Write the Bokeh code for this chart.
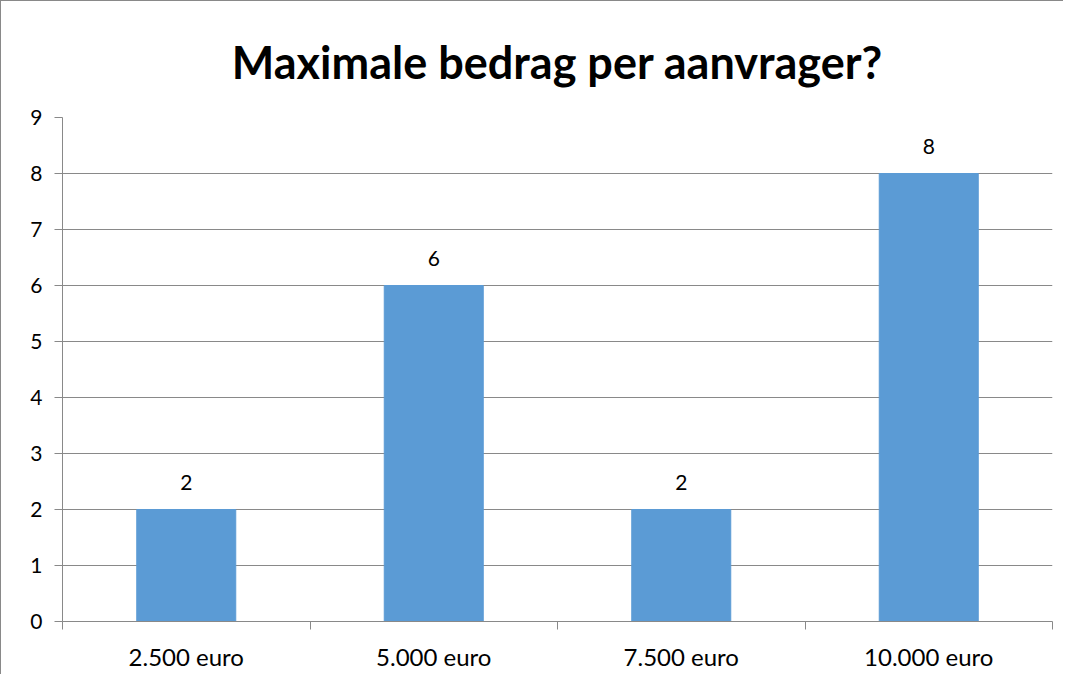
from bokeh.plotting import figure
from bokeh.models import FixedTicker, Range1d, ColumnDataSource, Title
from bokeh.core.properties import value
from bokeh.embed import file_html
from bokeh.resources import INLINE
import numpy as np

categories = ["2.500 euro", "5.000 euro", "7.500 euro", "10.000 euro"]
counts = [2, 6, 2, 8]
y_ticks = [0, 1, 2, 3, 4, 5, 6, 7, 8, 9]

FONT = "Lato"
GRID = "#898989"
BAR = "#5B9BD5"

n = len(categories)
centers = np.arange(n) + 0.5
src = ColumnDataSource(dict(x=centers, y=counts, lbl=[str(c) for c in counts]))

p = figure(width=1063, height=674, output_backend="svg", toolbar_location=None,
           x_range=Range1d(0, n), y_range=Range1d(0, 9),
           min_border_left=61, min_border_right=12, min_border_top=116, min_border_bottom=54,
           styles={"border-left": "1px solid #898989", "border-top": "1px solid #898989"})
p.outline_line_color = None
p.background_fill_color = "white"
p.border_fill_color = "white"

t = Title(text="Maximale bedrag per aanvrager?", align="center", text_font=FONT,
          text_font_size="45px", text_font_style="bold", text_color="black", standoff=57)
p.add_layout(t, "above")

p.vbar(x="x", top="y", width=0.4, bottom=0, source=src, fill_color=BAR, line_color=BAR)
p.text(x="x", y="y", text="lbl", source=src, text_align="center", text_baseline="bottom",
       y_offset=-20, text_font=value(FONT), text_font_size="21px", text_color="black")

# y axis
p.yaxis.ticker = FixedTicker(ticks=y_ticks)
p.yaxis.axis_line_color = GRID
p.yaxis.major_tick_line_color = GRID
p.yaxis.major_tick_out = 8
p.yaxis.major_tick_in = 0
p.yaxis.minor_tick_line_color = None
p.yaxis.major_label_text_font = FONT
p.yaxis.major_label_text_font_size = "21px"
p.yaxis.major_label_text_color = "black"
p.yaxis.major_label_standoff = 12

# x axis: labels at centers, ticks at boundaries (minor)
p.xaxis.ticker = FixedTicker(ticks=list(centers), minor_ticks=list(np.arange(n + 1)))
p.xaxis.major_label_overrides = {float(c): cat for c, cat in zip(centers, categories)}
p.xaxis.axis_line_color = GRID
p.xaxis.major_tick_line_color = None
p.xaxis.major_tick_out = 0
p.xaxis.major_tick_in = 0
p.xaxis.minor_tick_line_color = GRID
p.xaxis.minor_tick_out = 8
p.xaxis.minor_tick_in = 0
p.xaxis.major_label_text_font = FONT
p.xaxis.major_label_text_font_size = "24px"
p.xaxis.major_label_text_color = "black"
p.xaxis.major_label_standoff = 12

p.xgrid.grid_line_color = None
p.ygrid.ticker = FixedTicker(ticks=y_ticks[1:])
p.ygrid.grid_line_color = GRID

open("out.html", "w").write(file_html(p, INLINE))
